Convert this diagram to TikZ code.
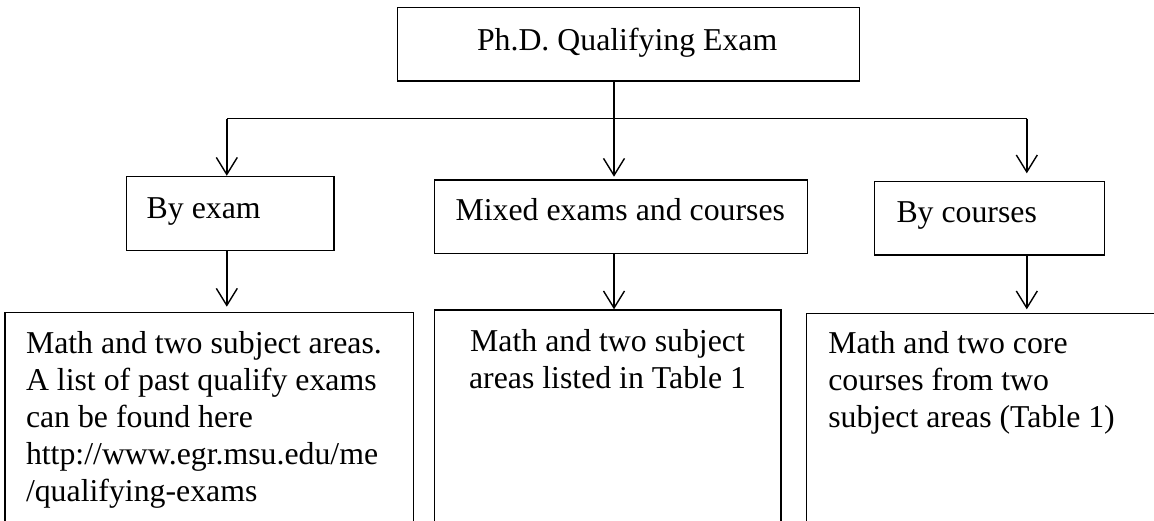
\documentclass[tikz,border=0pt]{standalone}
\usepackage{fontspec}
\setmainfont{Liberation Serif}
\usetikzlibrary{arrows.meta}
\tikzset{
  box/.style={draw=black, line width=1.3pt, fill=white, inner sep=0pt, outer sep=0pt},
  txt/.style={inner sep=0pt, outer sep=0pt, font=\fontsize{31.8}{37}\selectfont},
  conn/.style={draw=black, line width=1.8pt},
  arr/.style={conn, -{Straight Barb[length=17pt,width=21pt,line width=1.4pt]}}
}
\begin{document}
\begin{tikzpicture}[x=1pt,y=-1pt]
\path[use as bounding box] (0,0) rectangle (1154,520);
\clip (0,0) rectangle (1154,520);
% boxes
\node[box, minimum width=462.2pt, minimum height=73.7pt] (top) at (628.6,44.15) {};
\node[box, minimum width=207.8pt, minimum height=74.5pt] (exam) at (230.2,213.5) {};
\node[box, minimum width=373.3pt, minimum height=73.3pt] (mix) at (621.15,216.65) {};
\node[box, minimum width=230pt, minimum height=73.3pt] (courses) at (989.4,218.35) {};
\node[box, minimum width=408.3pt, minimum height=260pt] (bl) at (209.15,442.7) {};
\node[box, minimum width=346.5pt, minimum height=260pt] (bm) at (607.75,440) {};
\node[box, minimum width=420pt, minimum height=260pt] (br) at (1016.7,443.3) {};
% texts
\node[txt, anchor=base west] (ttop) at (477,50) {Ph.D. Qualifying Exam};
\node[txt, anchor=base west] (texam) at (146.7,218.3) {By exam};
\node[txt, anchor=base west] (tmix) at (455.6,220.5) {Mixed exams and courses};
\node[txt, anchor=base west] (tcourses) at (896.5,222) {By courses};
\begin{scope}
\clip (0,312) rectangle (413,508.3);
\node[txt, anchor=base west] (tbl) at (26,353.3) {\begin{tabular}[t]{@{}l@{}}Math and two subject areas.\\A list of past qualify exams\\can be found here\\http://www.egr.msu.edu/me\\/qualifying-exams\end{tabular}};
\end{scope}
\node[txt, anchor=base] (tbm) at (607.5,351.5) {\begin{tabular}[t]{@{}c@{}}Math and two subject\\areas listed in Table 1\end{tabular}};
\node[txt, anchor=base west] (tbr) at (828.3,353.3) {\begin{tabular}[t]{@{}l@{}}Math and two core\\courses from two\\subject areas (Table 1)\end{tabular}};
% connectors
\coordinate (hL) at (226.8,118.5);
\coordinate (hM) at (614,118.5);
\coordinate (hR) at (1026.8,118.5);
\draw[conn] (hL) -- (hR);
\draw[conn] (top.south -| hM) -- (hM);
\draw[arr] (hL) -- ([yshift=0.5pt]exam.north -| hL);
\draw[arr] (hM) -- ([yshift=3.3pt]mix.north -| hM);
\draw[arr] (hR) -- ([yshift=8.4pt]courses.north -| hR);
\draw[arr] (exam.south -| hL) -- ([yshift=6pt]bl.north -| hL);
\draw[arr] (mix.south -| hM) -- ([yshift=0.7pt]bm.north -| hM);
\draw[arr] (courses.south -| hR) -- ([yshift=4pt]br.north -| hR);
\end{tikzpicture}
\end{document}
